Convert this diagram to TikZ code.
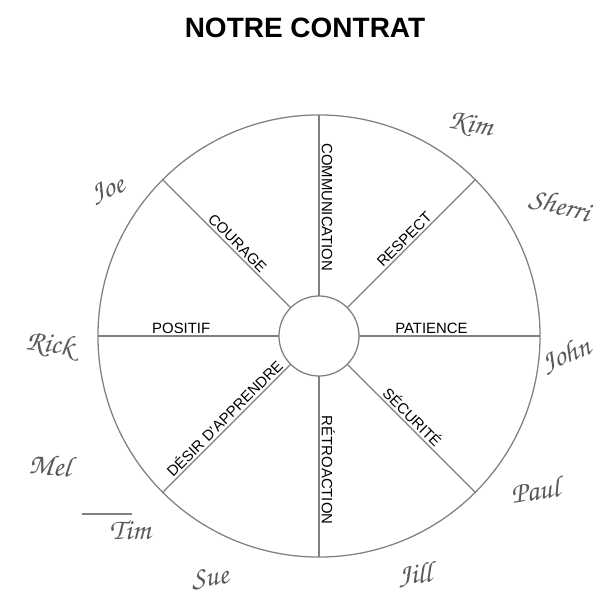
\documentclass[tikz,border=0pt]{standalone}
\usepackage[T1]{fontenc}
\usepackage{fontspec}
\setmainfont{Liberation Sans}
\usetikzlibrary{positioning}
\definecolor{spokegray}{gray}{0.5}
\newcommand\sigfont{\fontencoding{T1}\fontfamily{pzc}\fontseries{mb}\fontshape{it}\selectfont}

\begin{document}
\begin{tikzpicture}[x=0.025cm,y=0.025cm,
    spoke/.style={draw=spokegray,line width=0.9pt},
    lbl/.style={sloped,above,inner sep=1.5pt,font=\fontsize{10.6}{12}\selectfont,text=black},
    sig/.style={font=\fontsize{21}{21}\sigfont,text=black!65}]
    \useasboundingbox (-319,-264) rectangle (281,336);

    \node[font=\bfseries\fontsize{19.9}{22}\selectfont] (title) at (-14,308) {NOTRE CONTRAT};

    \node[circle,spoke,minimum size=11.05cm,inner sep=0pt,outer sep=0pt] (rim) at (0,0) {};
    \node[circle,spoke,minimum size=2cm,inner sep=0pt,outer sep=0pt] (hub) at (0,0) {};

    \draw[spoke] (rim.90) -- (hub.90) node[lbl,pos=0.51] {COMMUNICATION};
    \draw[spoke] (hub.45) -- (rim.45) node[lbl,pos=0.49] {RESPECT};
    \draw[spoke] (hub.0) -- (rim.0) node[lbl,pos=0.40] {PATIENCE};
    \draw[spoke] (hub.315) -- (rim.315) node[lbl,pos=0.46] {SÉCURITÉ};
    \draw[spoke] (hub.270) -- (rim.270) node[lbl,pos=0.52] {RÉTROACTION};
    \draw[spoke] (rim.225) -- (hub.225) node[lbl,pos=0.53] {DÉSIR D'APPRENDRE};
    \draw[spoke] (rim.180) -- (hub.180) node[lbl,pos=0.46] {POSITIF};
    \draw[spoke] (rim.135) -- (hub.135) node[lbl,pos=0.54] {COURAGE};

    \node[sig,rotate=-12] (kim) at (151,211) {Kim};
    \node[sig,rotate=-15] (sherri) at (241,131) {Sherri};
    \node[sig,rotate=22] (john) at (247,-19) {John};
    \node[sig,rotate=8] (paul) at (216,-154) {Paul};
    \node[sig,rotate=5] (jill) at (96,-239) {Jill};
    \node[sig,rotate=8] (sue) at (-109,-242) {Sue};
    \node[sig] (tim) at (-189,-194) {Tim};
    \node[sig,rotate=-5] (mel) at (-269,-129) {Mel};
    \node[sig,rotate=-8] (rick) at (-269,-9) {Rick};
    \node[sig,rotate=20] (joe) at (-211,146) {Joe};

    \coordinate (timA) at (-237,-178);
    \coordinate (timB) at (-187,-178);
    \draw[spokegray,line width=0.8pt] (timA) -- (timB);
\end{tikzpicture}
\end{document}
